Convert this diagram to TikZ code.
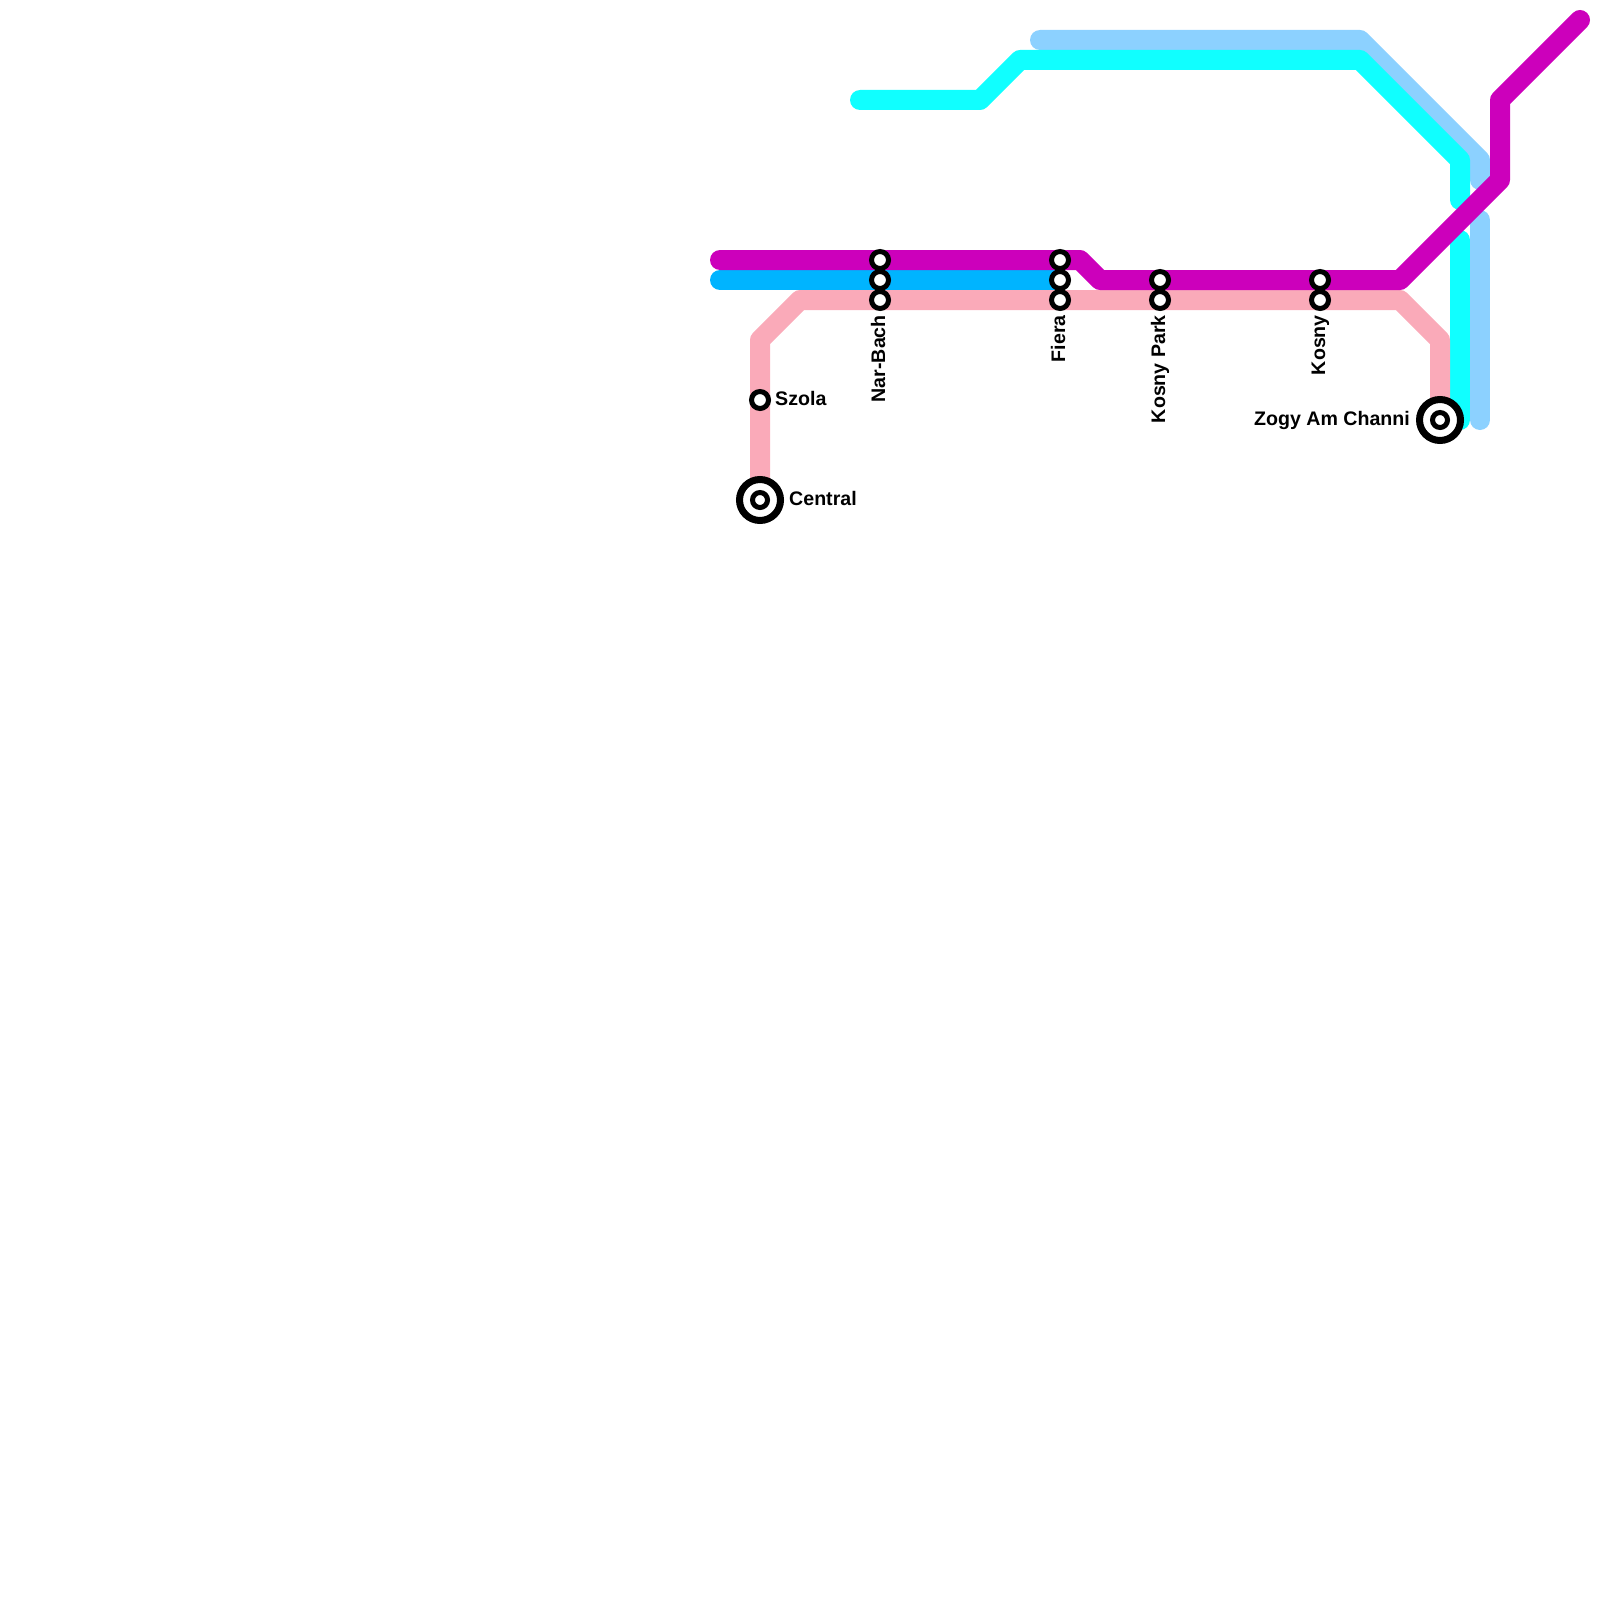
\documentclass[tikz,border=0pt]{standalone}
\usepackage{fontspec}
\setmainfont{Liberation Sans}
\definecolor{lnMagenta}{RGB}{204,0,187}
\definecolor{lnBlue}{RGB}{0,180,255}
\definecolor{lnCyan}{RGB}{16,255,255}
\definecolor{lnLight}{RGB}{140,209,255}
\definecolor{lnPink}{RGB}{250,170,185}
\begin{document}
\begin{tikzpicture}[x=1pt, y=-1pt,
		route/.style={line width=20pt, line cap=round, line join=round},
		stop/.style={circle, draw=black, fill=white, line width=5pt, minimum size=17pt, inner sep=0pt},
		hub/.style={circle, draw=black, fill=white, line width=7pt, minimum size=41pt, inner sep=0pt,
			path picture={\draw[line width=5pt](path picture bounding box.center) circle[radius=7.5pt];}},
		lbl/.style={font=\fontsize{19.6}{23}\selectfont\bfseries, inner sep=0pt}]
		\useasboundingbox(0, 0) rectangle (1600, 1600);
		\draw[route, lnLight](1040, 40)--(1360, 40)--(1480, 160)--(1480, 180);
		\draw[route, lnLight](1480, 220)--(1480, 420);
		\draw[route, lnCyan](860, 100)--(980, 100)--(1020, 60)--(1360, 60)--(1460, 160)--(1460, 200);
		\draw[route, lnCyan](1460, 240)--(1460, 420);
		\draw[route, lnPink](760, 500)--(760, 340)--(800, 300)--(1400, 300)--(1440, 340)--(1440, 420);
		\draw[route, lnBlue](720, 280)--(1060, 280);
		\draw[route, lnMagenta](720, 260)--(1080, 260)--(1100, 280)--(1400, 280)--(1500, 180)--(1500, 100)--(1580, 20);
		\node[stop](szola) at(760, 400){};
		\node[hub](central) at(760, 500){};
		\node[stop](narbachA) at(880, 260){};
		\node[stop](narbachB) at(880, 280){};
		\node[stop](narbachC) at(880, 300){};
		\node[stop](fieraA) at(1060, 260){};
		\node[stop](fieraB) at(1060, 280){};
		\node[stop](fieraC) at(1060, 300){};
		\node[stop](kosnyparkA) at(1160, 280){};
		\node[stop](kosnyparkB) at(1160, 300){};
		\node[stop](kosnyA) at(1320, 280){};
		\node[stop](kosnyB) at(1320, 300){};
		\node[hub](zogy) at(1440, 420){};
		\node[lbl, anchor=base west](szolaLbl) at([xshift=4pt, yshift=-5pt]szola.east){Szola};
		\node[lbl, anchor=base west](centralLbl) at([xshift=5pt, yshift=-5pt]central.east){Central};
		\node[lbl, anchor=base east](zogyLbl) at([xshift=-6pt, yshift=-5pt]zogy.west){Zogy Am Channi};
		\node[lbl, rotate=90, anchor=base east](narbachLbl) at([xshift=5pt, yshift=-4pt]narbachC.south){Nar-Bach};
		\node[lbl, rotate=90, anchor=base east](fieraLbl) at([xshift=5pt, yshift=-4pt]fieraC.south){Fiera};
		\node[lbl, rotate=90, anchor=base east](kosnyparkLbl) at([xshift=5pt, yshift=-4pt]kosnyparkB.south){Kosny Park};
		\node[lbl, rotate=90, anchor=base east](kosnyLbl) at([xshift=5pt, yshift=-4pt]kosnyB.south){Kosny};
	\end{tikzpicture}
\end{document}
